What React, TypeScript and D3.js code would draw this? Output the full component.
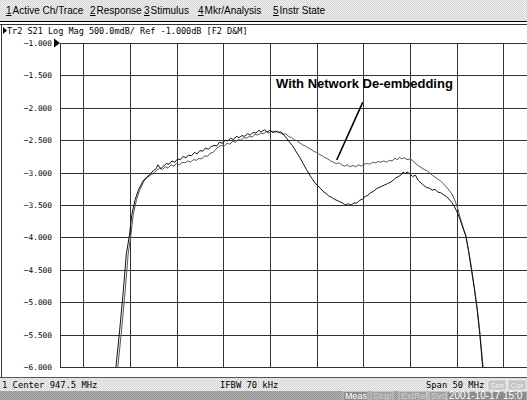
import React from 'react';
import * as d3 from 'd3';

const yTicks = [-1, -1.5, -2, -2.5, -3, -3.5, -4, -4.5, -5, -5.5, -6];
const xGridMHz = [927.5, 932.5, 937.5, 942.5, 947.5, 952.5, 957.5, 962.5, 967.5, 972.5];
const menuItems = [
  { key: '1', label: 'Active Ch/Trace', x: 6 },
  { key: '2', label: 'Response', x: 90 },
  { key: '3', label: 'Stimulus', x: 144 },
  { key: '4', label: 'Mkr/Analysis', x: 198 },
  { key: '5', label: 'Instr State', x: 273 },
];
const titleText = 'Tr2 S21 Log Mag 500.0mdB/ Ref -1.000dB [F2 D&M]';
const statusLeft = '1 Center 947.5 MHz';
const statusMid = 'IFBW 70 kHz';
const statusRight = 'Span 50 MHz';
const annotation = 'With Network De-embedding';
const bottomItems = [
  { label: 'Meas', x: 343, w: 25, on: true },
  { label: 'Stop', x: 371, w: 22, on: false },
  { label: 'ExtRef', x: 399, w: 28, on: false },
  { label: 'Svc', x: 429, w: 17, on: false },
  { label: '2001-10-17 15:0', x: 447, w: 80, on: true },
];

// Trace without de-embedding (dips in the upper passband)
const traceRaw: [number, number][] = [
  [930.9,-6.2],[931.0,-6.0],[931.4,-5.43],[931.8,-4.81],[932.1,-4.27],[932.45,-3.96],[932.7,-3.65],[933.05,-3.42],[933.4,-3.27],[933.9,-3.13],[934.3,-3.07],[934.7,-3.02],[935.0,-2.97],[935.3,-2.94],[935.5,-2.88],[935.8,-2.94],[936.1,-2.90],[936.4,-2.86],[936.7,-2.87],[937.0,-2.82],[937.3,-2.84],[937.6,-2.79],[937.9,-2.80],[938.2,-2.75],[938.5,-2.77],[938.8,-2.73],[939.1,-2.74],[939.4,-2.69],[939.7,-2.71],[940.0,-2.66],[940.3,-2.67],[940.6,-2.62],[940.9,-2.64],[941.2,-2.60],[941.5,-2.58],[941.8,-2.59],[942.1,-2.53],[942.4,-2.55],[942.7,-2.50],[943.0,-2.51],[943.3,-2.47],[943.6,-2.49],[943.9,-2.44],[944.2,-2.46],[944.5,-2.43],[944.8,-2.44],[945.1,-2.40],[945.4,-2.42],[945.7,-2.38],[946.0,-2.39],[946.3,-2.35],[946.6,-2.37],[946.9,-2.34],[947.2,-2.37],[947.5,-2.35],[947.8,-2.38],[948.1,-2.36],[948.4,-2.38],[948.7,-2.37],[949.0,-2.42],[949.3,-2.47],[949.6,-2.53],[949.9,-2.58],[950.2,-2.65],[950.5,-2.72],[950.8,-2.79],[951.1,-2.87],[951.4,-2.95],[951.7,-3.02],[952.0,-3.09],[952.3,-3.15],[952.6,-3.20],[952.9,-3.24],[953.2,-3.29],[953.5,-3.32],[953.8,-3.36],[954.1,-3.38],[954.4,-3.41],[954.7,-3.43],[955.0,-3.45],[955.3,-3.47],[955.6,-3.50],[955.9,-3.48],[956.2,-3.50],[956.5,-3.47],[956.8,-3.47],[957.1,-3.43],[957.4,-3.41],[957.7,-3.37],[958.0,-3.35],[958.3,-3.31],[958.6,-3.29],[958.9,-3.25],[959.2,-3.23],[959.5,-3.21],[959.8,-3.19],[960.1,-3.17],[960.4,-3.15],[960.7,-3.12],[961.0,-3.08],[961.3,-3.06],[961.6,-3.03],[961.8,-2.99],[962.0,-3.02],[962.2,-2.99],[962.5,-3.02],[962.8,-3.06],[963.1,-3.04],[963.4,-3.12],[963.7,-3.16],[964.0,-3.20],[964.3,-3.23],[964.6,-3.24],[964.9,-3.27],[965.2,-3.26],[965.5,-3.30],[965.8,-3.31],[966.1,-3.34],[966.4,-3.37],[966.7,-3.41],[967.0,-3.46],[967.3,-3.53],[967.6,-3.62],[967.9,-3.73],[968.2,-3.86],[968.5,-3.98],[968.8,-4.22],[969.1,-4.50],[969.4,-4.78],[969.7,-5.10],[970.0,-5.50],[970.3,-6.0],[970.4,-6.2],
];

// Trace with network de-embedding (flatter passband)
const traceDeembed: [number, number][] = [
  [931.1,-6.2],[931.2,-6.0],[931.6,-5.43],[932.0,-4.81],[932.3,-4.27],[932.6,-3.96],[932.85,-3.65],[933.2,-3.42],[933.55,-3.27],[934.0,-3.13],[934.4,-3.07],[934.8,-3.03],[935.1,-3.00],[935.4,-2.96],[935.7,-2.93],[936.0,-2.95],[936.3,-2.91],[936.6,-2.93],[936.9,-2.88],[937.2,-2.90],[937.5,-2.86],[937.8,-2.88],[938.1,-2.84],[938.4,-2.85],[938.7,-2.82],[939.0,-2.84],[939.3,-2.80],[939.6,-2.81],[939.9,-2.78],[940.2,-2.79],[940.5,-2.74],[940.8,-2.75],[941.1,-2.70],[941.4,-2.69],[941.7,-2.64],[942.0,-2.60],[942.3,-2.58],[942.6,-2.59],[942.9,-2.55],[943.2,-2.56],[943.5,-2.52],[943.8,-2.53],[944.1,-2.49],[944.4,-2.50],[944.7,-2.46],[945.0,-2.47],[945.3,-2.44],[945.6,-2.45],[945.9,-2.41],[946.2,-2.42],[946.5,-2.39],[946.8,-2.40],[947.1,-2.37],[947.4,-2.39],[947.7,-2.36],[948.0,-2.38],[948.3,-2.36],[948.6,-2.39],[948.9,-2.41],[949.2,-2.40],[949.5,-2.44],[949.8,-2.46],[950.1,-2.49],[950.4,-2.51],[950.7,-2.54],[951.0,-2.57],[951.3,-2.59],[951.6,-2.62],[951.9,-2.64],[952.2,-2.67],[952.5,-2.69],[952.8,-2.72],[953.1,-2.74],[953.4,-2.77],[953.7,-2.79],[954.0,-2.82],[954.3,-2.84],[954.6,-2.86],[954.9,-2.85],[955.2,-2.88],[955.5,-2.90],[955.8,-2.88],[956.1,-2.91],[956.4,-2.89],[956.7,-2.91],[957.0,-2.88],[957.3,-2.90],[957.6,-2.87],[957.9,-2.86],[958.2,-2.87],[958.5,-2.84],[958.8,-2.85],[959.1,-2.83],[959.4,-2.84],[959.7,-2.82],[960.0,-2.84],[960.3,-2.81],[960.6,-2.82],[960.9,-2.78],[961.2,-2.80],[961.4,-2.76],[961.6,-2.79],[961.9,-2.77],[962.2,-2.80],[962.5,-2.79],[962.8,-2.81],[963.1,-2.86],[963.4,-2.89],[963.7,-2.92],[964.0,-2.95],[964.3,-2.97],[964.6,-3.00],[964.9,-3.04],[965.2,-3.07],[965.5,-3.10],[965.8,-3.13],[966.1,-3.17],[966.4,-3.22],[966.7,-3.27],[967.0,-3.33],[967.3,-3.42],[967.6,-3.54],[967.9,-3.70],[968.2,-3.84],[968.5,-3.97],[968.8,-4.20],[969.1,-4.46],[969.4,-4.76],[969.7,-5.07],[970.0,-5.45],[970.3,-5.92],[970.45,-6.2],
];

const W = 527;
const H = 400;
const plotLeft = 60;
const plotRight = 527;
const plotTop = 43;
const plotBottom = 367;

const mono = "'DejaVu Sans Mono', 'Liberation Mono', monospace";
const sans = "'Liberation Sans', Arial, sans-serif";

export default function App() {
  const x = d3.scaleLinear().domain([922.5, 972.5]).range([36.65, 503.15]);
  const y = d3.scaleLinear().domain([-6, -1]).range([plotBottom, plotTop]);
  const line = d3
    .line<[number, number]>()
    .x((d) => x(d[0]))
    .y((d) => y(d[1]));
  const fmt = d3.format('.3f');

  return (
    <svg
      width={W}
      height={H}
      viewBox={`0 0 ${W} ${H}`}
      style={{ position: 'fixed', left: 0, top: 0, background: '#fff' }}
    >
      <defs>
        <clipPath id="plotClip">
          <rect x={plotLeft} y={plotTop} width={plotRight - plotLeft} height={plotBottom - plotTop + 0.5} />
        </clipPath>
        <pattern id="dither" width="2" height="2" patternUnits="userSpaceOnUse">
          <rect width="2" height="2" fill="#ececec" />
          <rect width="1" height="1" fill="#d8d8d8" />
          <rect x="1" y="1" width="1" height="1" fill="#d8d8d8" />
        </pattern>
        <pattern id="ditherDark" width="2" height="2" patternUnits="userSpaceOnUse">
          <rect width="2" height="2" fill="#acacac" />
          <rect width="1" height="1" fill="#989898" />
          <rect x="1" y="1" width="1" height="1" fill="#989898" />
        </pattern>
      </defs>

      {/* menu bar */}
      <rect x={0} y={0} width={W} height={21} fill="url(#dither)" />
      {menuItems.map((m) => (
        <text key={m.key} x={m.x} y={14} fontFamily={sans} fontSize={10} fill="#000">
          <tspan textDecoration="underline">{m.key}</tspan>
          <tspan dx={1}>{m.label}</tspan>
        </text>
      ))}
      <line x1={0} x2={W} y1={21.5} y2={21.5} stroke="#000" strokeWidth={1} />
      <line x1={0} x2={W} y1={24.5} y2={24.5} stroke="#333" strokeWidth={1} />

      {/* window frame */}
      <line x1={1.5} x2={1.5} y1={25} y2={377} stroke="#333" strokeWidth={1} />
      <line x1={0} x2={W} y1={377.5} y2={377.5} stroke="#555" strokeWidth={1} />

      {/* title */}
      <path d="M3,27 L3,34 L7,30.5 Z" fill="#000" />
      <text x={7} y={34} fontFamily={mono} fontSize={8.5} fill="#000">
        {titleText}
      </text>

      {/* grid */}
      {yTicks.map((t) => (
        <line
          key={`h${t}`}
          x1={plotLeft}
          x2={plotRight}
          y1={Math.round(y(t)) + 0.5}
          y2={Math.round(y(t)) + 0.5}
          stroke="#333"
          strokeWidth={1}
        />
      ))}
      {xGridMHz.map((f) => (
        <line
          key={`v${f}`}
          x1={Math.round(x(f)) + 0.5}
          x2={Math.round(x(f)) + 0.5}
          y1={plotTop}
          y2={plotBottom}
          stroke="#333"
          strokeWidth={1}
        />
      ))}
      <line x1={plotLeft + 0.5} x2={plotLeft + 0.5} y1={plotTop} y2={plotBottom + 0.5} stroke="#333" strokeWidth={1} />

      {/* y labels */}
      {yTicks.map((t) => (
        <text
          key={`l${t}`}
          x={52}
          y={y(t) + 3}
          textAnchor="end"
          fontFamily={mono}
          fontSize={7.8}
          fill="#000"
        >
          {fmt(t)}
        </text>
      ))}
      {/* reference marker */}
      <path d={`M54,${y(-1) - 4.5} L54,${y(-1) + 4.5} L60,${y(-1)} Z`} fill="#000" />

      {/* traces */}
      <g clipPath="url(#plotClip)">
        <path d={line(traceDeembed) || ''} fill="none" stroke="#555" strokeWidth={1} />
        <path d={line(traceRaw) || ''} fill="none" stroke="#111" strokeWidth={1} />
      </g>

      {/* annotation */}
      <text x={276} y={88} fontFamily={sans} fontWeight="bold" fontSize={13} fill="#000">
        {annotation}
      </text>
      <line x1={362.7} y1={102.3} x2={336.7} y2={160} stroke="#000" strokeWidth={1.6} />

      {/* status bar */}
      <rect x={0} y={378} width={W} height={13} fill="url(#dither)" />
      <text x={2} y={388} fontFamily={mono} fontSize={8.8} fill="#000">
        {statusLeft}
      </text>
      <text x={220} y={388} fontFamily={mono} fontSize={8.8} fill="#000">
        {statusMid}
      </text>
      <text x={426} y={388} fontFamily={mono} fontSize={8.8} fill="#000">
        {statusRight}
      </text>
      <rect x={488} y={380} width={18} height={10} fill="#c4c4c4" stroke="#eee" strokeWidth={0.8} />
      <text x={497} y={388} textAnchor="middle" fontFamily={sans} fontSize={8} fill="#f4f4f4">Sim</text>
      <rect x={508} y={380} width={18} height={10} fill="#c4c4c4" stroke="#eee" strokeWidth={0.8} />
      <text x={517} y={388} textAnchor="middle" fontFamily={sans} fontSize={8} fill="#f4f4f4">Cor</text>

      {/* bottom bar */}
      <rect x={0} y={391} width={W} height={9} fill="url(#ditherDark)" />
      {bottomItems.map((b) => (
        <g key={b.label}>
          <rect x={b.x} y={391.5} width={b.w} height={9} fill={b.on ? '#8c8c8c' : 'none'} stroke="#d0d0d0" strokeWidth={0.8} />
          <text x={b.x + 2} y={399} fontFamily={sans} fontSize={b.label.length > 8 ? 10 : 9} fill={b.on ? '#ffffff' : '#cfcfcf'}>
            {b.label}
          </text>
        </g>
      ))}
    </svg>
  );
}
